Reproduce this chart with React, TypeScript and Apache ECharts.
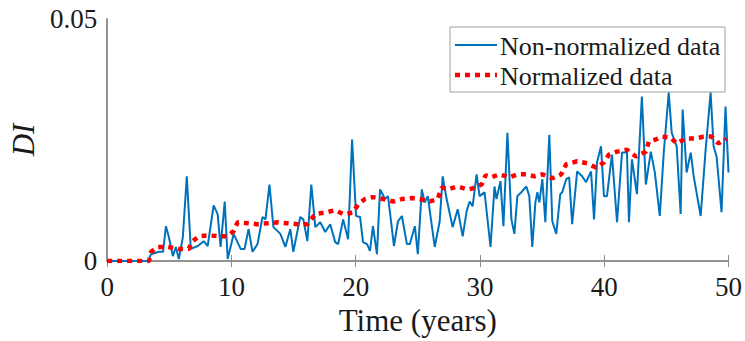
import React, { useEffect, useRef } from "react";
import * as echarts from "echarts";

const xTicks = [0, 10, 20, 30, 40, 50];
const yTicks = [0, 0.05];
const seriesNames = ["Non-normalized data", "Normalized data"];

const rawTimes = [0, 3.3, 3.53, 4.17, 4.5, 4.73, 4.97, 5.29, 5.53, 5.77, 6.09, 6.41, 6.73, 7.29, 7.77, 8.09, 8.57, 8.89, 9.13, 9.46, 9.7, 10.18, 10.74, 11.06, 11.38, 11.7, 12.1, 12.5, 12.74, 13.06, 13.38, 13.94, 14.34, 14.74, 14.98, 15.54, 15.79, 16.11, 16.43, 16.75, 17.15, 17.55, 17.95, 18.35, 18.59, 18.99, 19.39, 19.71, 20.03, 20.35, 20.59, 20.91, 21.15, 21.39, 21.71, 21.96, 22.36, 22.6, 23.08, 23.4, 23.72, 24.12, 24.36, 24.76, 25.0, 25.32, 25.56, 25.8, 26.36, 26.76, 27.0, 27.32, 27.8, 28.21, 28.61, 28.93, 29.17, 29.41, 29.73, 29.97, 30.37, 30.85, 31.17, 31.33, 31.65, 31.89, 32.21, 32.53, 32.77, 33.01, 33.33, 33.73, 33.97, 34.21, 34.46, 34.62, 34.78, 35.02, 35.26, 35.58, 35.82, 36.14, 36.46, 36.62, 36.94, 37.18, 37.42, 37.82, 38.22, 38.54, 38.94, 39.18, 39.42, 39.74, 39.98, 40.22, 40.62, 41.03, 41.43, 41.83, 41.99, 42.23, 42.63, 43.03, 43.35, 43.75, 44.07, 44.47, 44.79, 45.19, 45.43, 45.83, 46.15, 46.31, 46.63, 46.96, 47.2, 47.76, 48.16, 48.56, 48.8, 49.04, 49.44, 49.76, 50.0];
const rawValues = [0, 0, 0.0014, 0.0019, 0.0019, 0.0072, 0.0049, 0.001, 0.0029, 0.0004, 0.0049, 0.0175, 0.0025, 0.0031, 0.0041, 0.0031, 0.0115, 0.0097, 0.0029, 0.0123, 0.0004, 0.0056, 0.0025, 0.0025, 0.0066, 0.0019, 0.0035, 0.0091, 0.0086, 0.0158, 0.007, 0.0056, 0.0029, 0.0066, 0.0019, 0.0091, 0.0086, 0.0041, 0.0158, 0.007, 0.008, 0.006, 0.0076, 0.0039, 0.0035, 0.0086, 0.0045, 0.0251, 0.0093, 0.0091, 0.0039, 0.0035, 0.0021, 0.0072, 0.0014, 0.0148, 0.0128, 0.0134, 0.0031, 0.0082, 0.0093, 0.0035, 0.0035, 0.0072, 0.0014, 0.0148, 0.0121, 0.0134, 0.0029, 0.0082, 0.0175, 0.0128, 0.007, 0.0107, 0.0051, 0.0103, 0.0123, 0.0113, 0.0179, 0.0134, 0.0142, 0.0029, 0.0154, 0.0128, 0.0165, 0.0072, 0.0265, 0.0086, 0.0056, 0.0134, 0.0142, 0.0154, 0.0134, 0.0029, 0.0121, 0.0142, 0.0121, 0.0169, 0.008, 0.0261, 0.0082, 0.0056, 0.0138, 0.0142, 0.0169, 0.0173, 0.0076, 0.0185, 0.0175, 0.0163, 0.0185, 0.0086, 0.0204, 0.0237, 0.0134, 0.0134, 0.022, 0.008, 0.0224, 0.0224, 0.008, 0.021, 0.0138, 0.034, 0.0158, 0.0226, 0.0183, 0.0093, 0.0224, 0.0348, 0.0265, 0.0237, 0.0097, 0.0313, 0.0183, 0.0224, 0.0175, 0.0093, 0.023, 0.0348, 0.0237, 0.0216, 0.0101, 0.0319, 0.0183];

const normTimes = [0, 3.37, 3.53, 4.09, 4.89, 5.77, 6.57, 6.89, 7.37, 8.17, 8.97, 9.7, 10.18, 10.5, 11.3, 12.1, 12.9, 13.7, 14.5, 15.3, 16.1, 16.75, 17.55, 18.35, 18.99, 19.79, 20.19, 20.75, 21.39, 22.2, 23.0, 23.72, 24.52, 25.16, 25.96, 26.6, 26.92, 27.4, 28.2, 29.0, 29.41, 30.13, 30.45, 30.93, 31.57, 32.37, 33.01, 33.73, 34.38, 35.02, 35.82, 36.54, 36.94, 37.82, 38.62, 39.34, 39.98, 40.38, 41.03, 41.83, 42.55, 43.35, 43.59, 44.15, 44.63, 45.35, 45.83, 46.55, 47.36, 48.0, 48.64, 49.2, 49.84];
const normValues = [0, 0, 0.0019, 0.0029, 0.0029, 0.0025, 0.0025, 0.0041, 0.0051, 0.0053, 0.0051, 0.0051, 0.0062, 0.008, 0.0078, 0.0076, 0.0078, 0.008, 0.0078, 0.0076, 0.0076, 0.0097, 0.01, 0.0105, 0.0097, 0.01, 0.0117, 0.0128, 0.0132, 0.0128, 0.0123, 0.0128, 0.013, 0.0128, 0.0123, 0.0128, 0.0152, 0.0148, 0.0154, 0.0148, 0.015, 0.0158, 0.0177, 0.0173, 0.0179, 0.0173, 0.0179, 0.0179, 0.0175, 0.0179, 0.0171, 0.0179, 0.02, 0.0206, 0.0202, 0.0193, 0.0204, 0.022, 0.0226, 0.023, 0.0216, 0.0226, 0.0247, 0.0251, 0.0257, 0.0255, 0.0243, 0.0253, 0.0253, 0.0257, 0.0257, 0.0243, 0.0253];

const FONT = "Liberation Serif";
const AXIS_COLOR = "#8c8c8c";
const TEXT_COLOR = "#1a1a1a";
const BLUE = "#0072BD";
const RED = "#FF0000";

export default function App() {
  const ref = useRef<HTMLDivElement>(null);
  useEffect(() => {
    if (!ref.current) return;
    const chart = echarts.init(ref.current, undefined, { renderer: "svg" });
    const rawData = rawTimes.map((t, i) => [t, rawValues[i]]);
    const normData = normTimes.map((t, i) => [t, normValues[i]]);
    chart.setOption({
      animation: false,
      backgroundColor: "#ffffff",
      grid: { left: 106, right: 15, top: 19, bottom: 79, show: false },
      graphic: [
        {
          type: "group",
          z: 100,
          children: [
            {
              type: "rect",
              shape: { x: 450, y: 27, width: 275, height: 65 },
              style: { fill: "#ffffff", stroke: "#a0a0a0", lineWidth: 1 },
            },
            {
              type: "line",
              shape: { x1: 455, y1: 45, x2: 497, y2: 45 },
              style: { stroke: BLUE, lineWidth: 2 },
            },
            {
              type: "line",
              shape: { x1: 455, y1: 75, x2: 497, y2: 75 },
              style: { stroke: RED, lineWidth: 4.5, lineDash: [5, 5] },
            },
            {
              type: "text",
              x: 500,
              y: 46,
              style: { text: seriesNames[0], font: `26px ${FONT}`, fill: TEXT_COLOR, verticalAlign: "middle", align: "left" },
            },
            {
              type: "text",
              x: 500,
              y: 76,
              style: { text: seriesNames[1], font: `26px ${FONT}`, fill: TEXT_COLOR, verticalAlign: "middle", align: "left" },
            },
          ],
        },
      ],
      xAxis: [
        {
          type: "value",
          min: 0,
          max: 50,
          interval: 10,
          position: "bottom",
          name: "Time (years)",
          nameLocation: "middle",
          nameGap: 44,
          nameTextStyle: { fontFamily: FONT, fontSize: 31, color: TEXT_COLOR },
          axisLine: { show: true, lineStyle: { color: AXIS_COLOR, width: 1.5 } },
          axisTick: { show: true, inside: true, length: 6, lineStyle: { color: AXIS_COLOR } },
          axisLabel: {
            fontFamily: FONT,
            fontSize: 27,
            color: TEXT_COLOR,
            margin: 12,
            formatter: (v: number) => (xTicks.includes(v) ? String(v) : ""),
          },
          splitLine: { show: false },
        },
        {
          type: "value",
          min: 0,
          max: 50,
          interval: 10,
          position: "top",
          axisLine: { show: true, lineStyle: { color: AXIS_COLOR, width: 1.5 } },
          axisTick: { show: true, inside: true, length: 6, lineStyle: { color: AXIS_COLOR } },
          axisLabel: { show: false },
          splitLine: { show: false },
        },
      ],
      yAxis: [
        {
          type: "value",
          min: 0,
          max: 0.05,
          interval: 0.05,
          position: "left",
          name: "DI",
          nameLocation: "middle",
          nameGap: 64,
          nameTextStyle: { fontFamily: FONT, fontSize: 31, fontStyle: "italic", color: TEXT_COLOR },
          axisLine: { show: true, lineStyle: { color: AXIS_COLOR, width: 1.5 } },
          axisTick: { show: false },
          axisLabel: {
            fontFamily: FONT,
            fontSize: 27,
            color: TEXT_COLOR,
            margin: 10,
            formatter: (v: number) => (yTicks.includes(v) ? String(v) : ""),
          },
          splitLine: { show: false },
        },
        {
          type: "value",
          min: 0,
          max: 0.05,
          interval: 0.05,
          position: "right",
          axisLine: { show: true, lineStyle: { color: AXIS_COLOR, width: 1.5 } },
          axisTick: { show: false },
          axisLabel: { show: false },
          splitLine: { show: false },
        },
      ],
      series: [
        {
          name: seriesNames[0],
          type: "line",
          data: rawData,
          symbol: "none",
          color: BLUE,
          lineStyle: { color: BLUE, width: 2 },
          z: 2,
        },
        {
          name: seriesNames[1],
          type: "line",
          data: normData,
          symbol: "none",
          color: RED,
          lineStyle: { color: RED, width: 4.5, type: [5, 5] },
          z: 3,
        },
      ],
    });
    return () => chart.dispose();
  }, []);
  return <div ref={ref} style={{ position: "fixed", left: 0, top: 0, width: 745, height: 341 }} />;
}
